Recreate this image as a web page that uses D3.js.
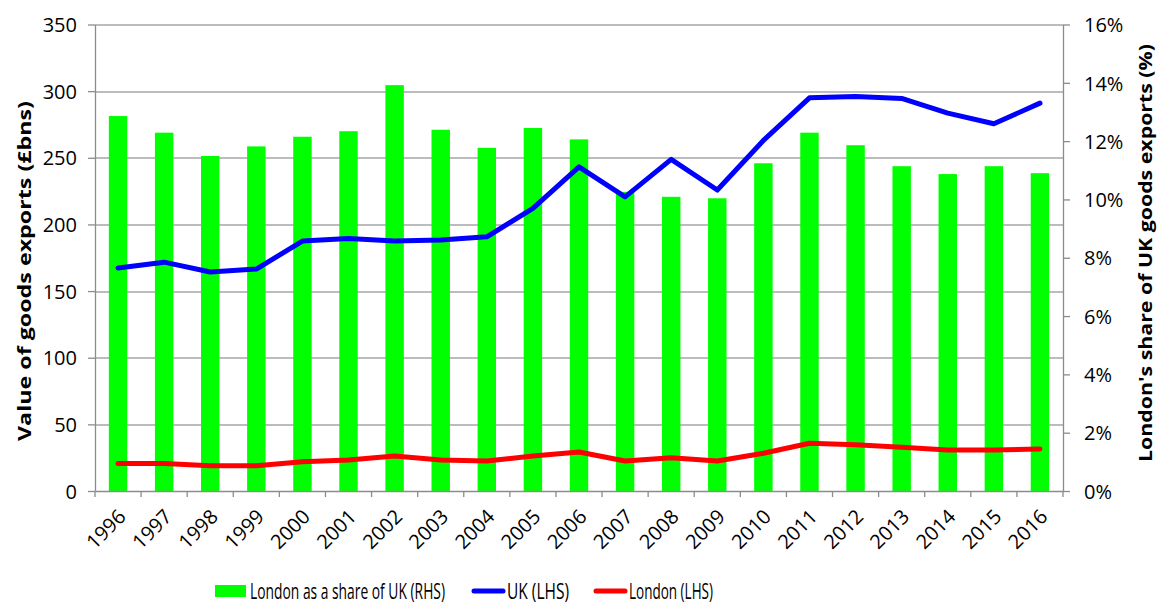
<!DOCTYPE html>
<html>
<head>
  <style>
    body { margin: 0; background: #fff; overflow: hidden; }
    svg { display: block; }
    text { font-family: "Open Sans", "Noto Sans", sans-serif; fill: #000; }
    .tick text { font-size: 20px; }
    .axis-title { font-size: 18px; font-weight: bold; }
    .legend text { font-size: 21px; }
    .domain, .tick line { stroke: #8c8c8c; }
  </style>
</head>
<body>
  <div id="chart"></div>
  <script src="https://cdnjs.cloudflare.com/ajax/libs/d3/7.8.5/d3.min.js"></script>
  <script>
    // Datos
    const years = ["1996","1997","1998","1999","2000","2001","2002","2003","2004","2005","2006",
                   "2007","2008","2009","2010","2011","2012","2013","2014","2015","2016"];
    const londonShare = [12.86, 12.29, 11.49, 11.82, 12.15, 12.34, 13.92, 12.39, 11.77, 12.45, 12.06,
                         10.26, 10.09, 10.04, 11.24, 12.29, 11.86, 11.14, 10.87, 11.14, 10.90];
    const ukExports = [167.3, 171.7, 164.3, 166.5, 187.5, 189.5, 187.5, 188.3, 190.7, 212.0, 243.2,
                       220.7, 248.8, 225.8, 263.0, 295.0, 296.0, 294.5, 283.5, 275.5, 291.0];
    const londonExports = [20.7, 20.7, 19.0, 19.0, 22.0, 23.3, 26.3, 23.3, 22.5, 26.3, 29.3,
                           22.5, 25.0, 22.5, 28.3, 35.8, 34.7, 32.8, 30.8, 30.8, 31.5];
    const leftTicks = [0, 50, 100, 150, 200, 250, 300, 350];
    const rightTicks = [0, 2, 4, 6, 8, 10, 12, 14, 16];

    const width = 1160, height = 603;
    const margin = { top: 24.5, right: 97, bottom: 112, left: 95 };
    const innerWidth = width - margin.left - margin.right;
    const innerHeight = height - margin.top - margin.bottom;

    const svg = d3.select("#chart").append("svg")
      .attr("width", width).attr("height", height);
    const g = svg.append("g").attr("transform", `translate(${margin.left},${margin.top})`);

    // Escalas
    const x = d3.scaleBand().domain(years).range([0, innerWidth]).padding(0);
    const yL = d3.scaleLinear().domain([0, 350]).range([innerHeight, 0]);
    const yR = d3.scaleLinear().domain([0, 16]).range([innerHeight, 0]);

    // Rejilla
    g.append("g").selectAll("line").data(leftTicks.slice(1)).join("line")
      .attr("x1", 0).attr("x2", innerWidth)
      .attr("y1", d => Math.round(yL(d)) + 0.5).attr("y2", d => Math.round(yL(d)) + 0.5)
      .attr("stroke", "#a6a6a6").attr("stroke-width", 1.3);

    // Barras
    const barW = x.bandwidth() * 0.4;
    g.append("g").selectAll("rect").data(years).join("rect")
      .attr("x", d => x(d) + (x.bandwidth() - barW) / 2)
      .attr("y", (d, i) => yR(londonShare[i]))
      .attr("width", barW)
      .attr("height", (d, i) => innerHeight - yR(londonShare[i]))
      .attr("fill", "#00ff00");

    // Ejes
    const xAxis = g.append("g").attr("transform", `translate(0,${innerHeight})`)
      .call(d3.axisBottom(x).tickSize(0).tickFormat(""));
    xAxis.selectAll(".tick").remove();
    xAxis.append("g").selectAll("line").data(d3.range(years.length + 1)).join("line")
      .attr("x1", i => i * x.step()).attr("x2", i => i * x.step())
      .attr("y1", 0).attr("y2", 6).attr("stroke", "#8c8c8c").attr("stroke-width", 1.3);
    xAxis.append("g").selectAll("text").data(years).join("text")
      .attr("transform", d => `translate(${x(d) + x.bandwidth() / 2 + 9},${27}) rotate(-45)`)
      .attr("text-anchor", "end")
      .style("font-size", "20px")
      .text(d => d);
    xAxis.select(".domain").attr("stroke-width", 1.3);

    const leftAxis = g.append("g")
      .call(d3.axisLeft(yL).tickValues(leftTicks).tickSize(7).tickPadding(11).tickSizeOuter(0));
    leftAxis.selectAll(".tick text").attr("dy", "0.36em");
    leftAxis.selectAll("line, .domain").attr("stroke-width", 1.3);

    const rightAxis = g.append("g").attr("transform", `translate(${innerWidth},0)`)
      .call(d3.axisRight(yR).tickValues(rightTicks).tickSize(7).tickPadding(14).tickSizeOuter(0)
        .tickFormat(d => d + "%"));
    rightAxis.selectAll(".tick text").attr("dy", "0.36em");
    rightAxis.selectAll("line, .domain").attr("stroke-width", 1.3);

    // Lineas
    const cx = d => x(d) + x.bandwidth() / 2;
    const lineL = vals => d3.line().x(cx).y((d, i) => yL(vals[i]))(years);
    g.append("path").attr("d", lineL(ukExports))
      .attr("fill", "none").attr("stroke", "#0000ff").attr("stroke-width", 5)
      .attr("stroke-linejoin", "round").attr("stroke-linecap", "round");
    g.append("path").attr("d", lineL(londonExports))
      .attr("fill", "none").attr("stroke", "#ff0000").attr("stroke-width", 5)
      .attr("stroke-linejoin", "round").attr("stroke-linecap", "round");

    // Titulos de ejes
    svg.append("text").attr("class", "axis-title")
      .attr("transform", "translate(25,271) rotate(-90)")
      .attr("text-anchor", "middle").attr("dy", "0.35em")
      .attr("textLength", 340).attr("lengthAdjust", "spacingAndGlyphs")
      .text("Value of goods  exports (£bns)");
    svg.append("text").attr("class", "axis-title")
      .attr("transform", "translate(1146,253) rotate(-90)")
      .attr("text-anchor", "middle").attr("dy", "0.35em")
      .attr("textLength", 418).attr("lengthAdjust", "spacingAndGlyphs")
      .text("London's share of UK goods exports (%)");

    // Leyenda
    const legendData = [
      { label: "London as a share of UK (RHS)", color: "#00ff00", type: "bar", textW: 195, gap: 27 },
      { label: "UK (LHS)", color: "#0000ff", type: "line", textW: 62, gap: 25 },
      { label: "London (LHS)", color: "#ff0000", type: "line", textW: 84, gap: 0 }
    ];
    const legend = svg.append("g").attr("class", "legend").attr("transform", "translate(215,591)");
    let lx = 0;
    legendData.forEach(item => {
      if (item.type === "bar") {
        legend.append("rect").attr("x", lx).attr("y", -6).attr("width", 31).attr("height", 12)
          .attr("fill", item.color);
      } else {
        legend.append("line").attr("x1", lx + 2).attr("x2", lx + 31).attr("y1", 0).attr("y2", 0)
          .attr("stroke", item.color).attr("stroke-width", 5).attr("stroke-linecap", "round");
      }
      legend.append("text").attr("x", lx + 35).attr("y", 0).attr("dy", "0.36em")
        .attr("textLength", item.textW).attr("lengthAdjust", "spacingAndGlyphs")
        .text(item.label);
      lx += 35 + item.textW + item.gap;
    });
  </script>
</body>
</html>
